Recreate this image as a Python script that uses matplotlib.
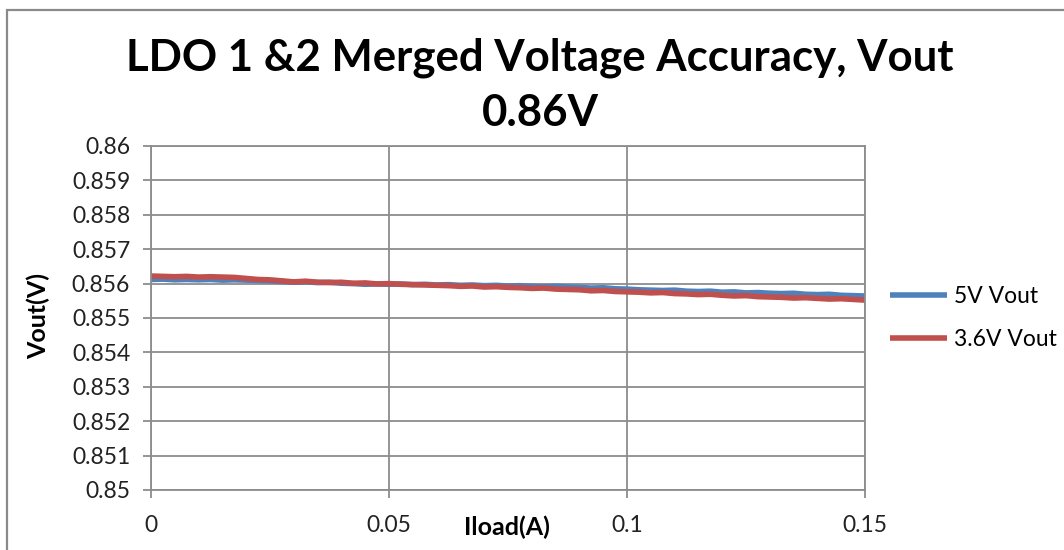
#!/usr/bin/env python3
"""
plot.py — LDO 1 & 2 merged voltage accuracy (Vout 0.86V) vs load current.
Excel-style line chart, two supply conditions.
"""

import matplotlib
matplotlib.use("Agg")
import matplotlib.pyplot as plt
import matplotlib.patches as mpatches

# ---------------------------------------------------------------------------

ILOAD = [
    0.0000, 0.0025, 0.0050, 0.0075, 0.0100, 0.0125, 0.0150, 0.0175, 0.0200, 0.0225,
    0.0250, 0.0275, 0.0300, 0.0325, 0.0350, 0.0375, 0.0400, 0.0425, 0.0450, 0.0475,
    0.0500, 0.0525, 0.0550, 0.0575, 0.0600, 0.0625, 0.0650, 0.0675, 0.0700, 0.0725,
    0.0750, 0.0775, 0.0800, 0.0825, 0.0850, 0.0875, 0.0900, 0.0925, 0.0950, 0.0975,
    0.1000, 0.1025, 0.1050, 0.1075, 0.1100, 0.1125, 0.1150, 0.1175, 0.1200, 0.1225,
    0.1250, 0.1275, 0.1300, 0.1325, 0.1350, 0.1375, 0.1400, 0.1425, 0.1450, 0.1475,
    0.1500,
]

VOUT_5V = [
    0.85612, 0.85613, 0.85611, 0.85612, 0.85611, 0.85612, 0.85610, 0.85611, 0.85610, 0.85609,
    0.85608, 0.85606, 0.85604, 0.85605, 0.85603, 0.85604, 0.85601, 0.85600, 0.85598, 0.85599,
    0.85598, 0.85599, 0.85597, 0.85598, 0.85596, 0.85597, 0.85595, 0.85596, 0.85594, 0.85595,
    0.85593, 0.85594, 0.85592, 0.85591, 0.85592, 0.85590, 0.85589, 0.85587, 0.85588, 0.85585,
    0.85584, 0.85582, 0.85581, 0.85580, 0.85581, 0.85578, 0.85577, 0.85578, 0.85575, 0.85576,
    0.85573, 0.85574, 0.85572, 0.85571, 0.85572, 0.85569, 0.85568, 0.85569, 0.85566, 0.85565,
    0.85564,
]

VOUT_3V6 = [
    0.85622, 0.85621, 0.85620, 0.85621, 0.85619, 0.85620, 0.85619, 0.85618, 0.85615, 0.85612,
    0.85611, 0.85608, 0.85605, 0.85607, 0.85604, 0.85603, 0.85604, 0.85601, 0.85602, 0.85599,
    0.85600, 0.85598, 0.85597, 0.85596, 0.85595, 0.85594, 0.85592, 0.85593, 0.85590, 0.85591,
    0.85589, 0.85588, 0.85586, 0.85587, 0.85584, 0.85583, 0.85582, 0.85579, 0.85580, 0.85577,
    0.85576, 0.85575, 0.85573, 0.85574, 0.85571, 0.85570, 0.85568, 0.85569, 0.85566, 0.85564,
    0.85565, 0.85562, 0.85561, 0.85560, 0.85558, 0.85559, 0.85557, 0.85555, 0.85556, 0.85554,
    0.85552,
]

SERIES_LABELS = ["5V Vout", "3.6V Vout"]
X_TICKS = [0, 0.05, 0.1, 0.15]
X_TICK_LABELS = ["0", "0.05", "0.1", "0.15"]
Y_TICKS = [0.85, 0.851, 0.852, 0.853, 0.854, 0.855, 0.856, 0.857, 0.858, 0.859, 0.86]
Y_TICK_LABELS = ["0.85", "0.851", "0.852", "0.853", "0.854", "0.855",
                 "0.856", "0.857", "0.858", "0.859", "0.86"]

BLUE = "#4F81BD"
RED  = "#C0504D"
GRID = "#8C8C8C"
FONT = ["Lato", "DejaVu Sans"]

W, H = 1064, 550

# ---------------------------------------------------------------------------

def main():
    plt.rcParams["font.family"] = FONT
    fig = plt.figure(figsize=(W / 100, H / 100), dpi=100)
    fig.patch.set_facecolor("white")

    # chart-area border (Excel style), only top/left visible in frame
    fig.add_artist(mpatches.Rectangle((7 / W, -0.1), 1.2, 1 - 10 / H + 0.1,
                                      transform=fig.transFigure, fill=False,
                                      edgecolor="#8A8A8A", linewidth=1.6))

    ax = fig.add_axes([151 / W, 1 - 490 / H, (865 - 151) / W, (490 - 146) / H])
    ax.plot(ILOAD, VOUT_5V, color=BLUE, linewidth=4.0, label=SERIES_LABELS[0],
            solid_capstyle="butt")
    ax.plot(ILOAD, VOUT_3V6, color=RED, linewidth=4.0, label=SERIES_LABELS[1],
            solid_capstyle="butt")

    ax.set_xlim(0, 0.15)
    ax.set_ylim(0.85, 0.86)
    ax.set_xticks(X_TICKS)
    ax.set_xticklabels(X_TICK_LABELS)
    ax.set_yticks(Y_TICKS)
    ax.set_yticklabels(Y_TICK_LABELS)
    ax.grid(True, color=GRID, linewidth=1.3)
    ax.set_axisbelow(True)
    for sp in ax.spines.values():
        sp.set_color(GRID)
        sp.set_linewidth(1.3)
    ax.tick_params(axis="both", direction="out", length=6, width=1.3, color=GRID,
                   labelsize=16.5, labelcolor="#222222")
    ax.tick_params(axis="y", pad=9)
    ax.tick_params(axis="x", pad=12)

    fig.text(38 / W, 1 - 316 / H, "Vout(V)", rotation=90, ha="center", va="center",
             fontsize=18, fontweight="bold")
    fig.text(507 / W, 1 - 527 / H, "Iload(A)", ha="center", va="center",
             fontsize=18, fontweight="bold")

    fig.text(540 / W, 1 - 58 / H, "LDO 1 &2 Merged Voltage Accuracy, Vout",
             ha="center", va="center", fontsize=31.5, fontweight="bold")
    fig.text(540 / W, 1 - 113 / H, "0.86V",
             ha="center", va="center", fontsize=31.5, fontweight="bold")

    ax.legend(loc="center left", bbox_to_anchor=(890 / W, 1 - 318 / H),
              bbox_transform=fig.transFigure, frameon=False, fontsize=16.5,
              handlelength=2.5, handletextpad=0.3, labelspacing=1.0,
              borderpad=0, borderaxespad=0)

    fig.savefig("out.png", dpi=100)


if __name__ == "__main__":
    main()
